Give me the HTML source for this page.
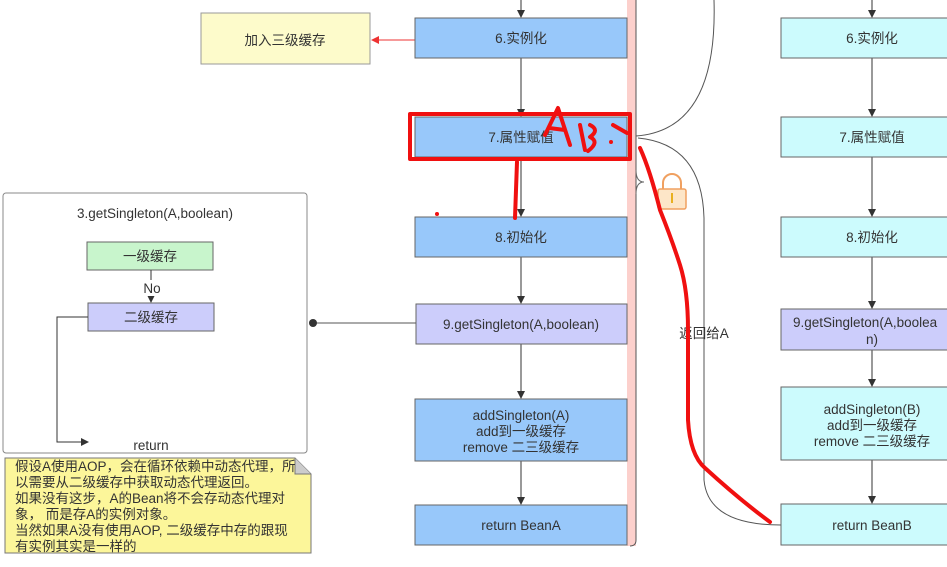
<!DOCTYPE html>
<html><head><meta charset="utf-8"><style>
body{margin:0;width:947px;height:562px;overflow:hidden;background:#fff}
svg text{font-family:"Liberation Sans","Noto Sans CJK SC",sans-serif;font-size:13.5px;fill:#333}
</style></head><body>
<svg width="947" height="562" viewBox="0 0 947 562" xmlns="http://www.w3.org/2000/svg">
<defs><marker id="a" markerWidth="8" markerHeight="8" refX="7" refY="4" orient="auto"><path d="M0,0L8,4L0,8z" fill="#333"/></marker>
<marker id="r" markerWidth="8" markerHeight="8" refX="7" refY="4" orient="auto"><path d="M0,0L8,4L0,8z" fill="#e33"/></marker></defs>
<rect x="627" y="0" width="9" height="546" fill="#fcd0cc"/>
<path d="M636,0V540q0,6 -6,6" fill="none" stroke="#555" stroke-width="1"/>
<path d="M636,170q0,12 8,12q-8,0 -8,12" fill="none" stroke="#666"/>
<path d="M714,0q4,130 -78,136" fill="none" stroke="#555"/>
<path d="M638,138q64,6 66,80V480q4,45 77,45" fill="none" stroke="#555"/>
<rect x="658" y="189" width="28" height="20" rx="2" fill="#fde6c8" stroke="#f0a060" stroke-width="1.5"/>
<path d="M663,189v-6a9,9 0 0 1 18,0v6" fill="none" stroke="#f0a060" stroke-width="2"/>
<line x1="672" y1="193" x2="672" y2="203" stroke="#e8b020" stroke-width="2"/>
<text x="704" y="338" text-anchor="middle">返回给A</text>
<rect x="201" y="13" width="169" height="51" fill="#fdfbcb" stroke="#999"/>
<text x="285" y="45" text-anchor="middle">加入三级缓存</text>
<line x1="415" y1="40" x2="372" y2="40" stroke="#e33" marker-end="url(#r)"/>
<g stroke="#333"><line x1="521" y1="0" x2="521" y2="17" marker-end="url(#a)"/>
<line x1="521" y1="58" x2="521" y2="116" marker-end="url(#a)"/>
<line x1="521" y1="157" x2="521" y2="216" marker-end="url(#a)"/>
<line x1="521" y1="257" x2="521" y2="303" marker-end="url(#a)"/>
<line x1="521" y1="344" x2="521" y2="398" marker-end="url(#a)"/>
<line x1="521" y1="461" x2="521" y2="504" marker-end="url(#a)"/></g>
<g stroke="#666" fill="#98c8fa">
<rect x="415" y="18" width="212" height="40"/>
<rect x="415" y="117" width="212" height="40"/>
<rect x="415" y="217" width="212" height="40"/>
<rect x="416" y="304" width="211" height="40" fill="#cccdfb"/>
<rect x="415" y="399" width="212" height="62"/>
<rect x="415" y="505" width="212" height="40"/></g>
<text x="521" y="43" text-anchor="middle">6.实例化</text>
<text x="521" y="142" text-anchor="middle">7.属性赋值</text>
<text x="521" y="242" text-anchor="middle">8.初始化</text>
<text x="521" y="329" text-anchor="middle">9.getSingleton(A,boolean)</text>
<text x="521" y="420" text-anchor="middle">addSingleton(A)</text>
<text x="521" y="436" text-anchor="middle">add到一级缓存</text>
<text x="521" y="452" text-anchor="middle">remove 二三级缓存</text>
<text x="521" y="530" text-anchor="middle">return BeanA</text>
<g stroke="#333"><line x1="872" y1="0" x2="872" y2="17" marker-end="url(#a)"/>
<line x1="872" y1="58" x2="872" y2="116" marker-end="url(#a)"/>
<line x1="872" y1="157" x2="872" y2="216" marker-end="url(#a)"/>
<line x1="872" y1="257" x2="872" y2="308" marker-end="url(#a)"/>
<line x1="872" y1="350" x2="872" y2="386" marker-end="url(#a)"/>
<line x1="872" y1="460" x2="872" y2="503" marker-end="url(#a)"/></g>
<g stroke="#666" fill="#ccfbfd">
<rect x="781" y="18" width="180" height="40"/>
<rect x="781" y="117" width="180" height="40"/>
<rect x="781" y="217" width="180" height="40"/>
<rect x="781" y="309" width="180" height="41" fill="#cccdfb"/>
<rect x="781" y="387" width="180" height="73"/>
<rect x="781" y="504" width="180" height="41"/></g>
<text x="872" y="43" text-anchor="middle">6.实例化</text>
<text x="872" y="142" text-anchor="middle">7.属性赋值</text>
<text x="872" y="242" text-anchor="middle">8.初始化</text>
<text x="793" y="327">9.getSingleton(A,boolea</text>
<text x="872" y="344" text-anchor="middle">n)</text>
<text x="872" y="414" text-anchor="middle">addSingleton(B)</text>
<text x="872" y="430" text-anchor="middle">add到一级缓存</text>
<text x="872" y="446" text-anchor="middle">remove 二三级缓存</text>
<text x="872" y="530" text-anchor="middle">return BeanB</text>
<rect x="3" y="193" width="304" height="260" rx="3" fill="#fff" stroke="#888"/>
<text x="155" y="218" text-anchor="middle">3.getSingleton(A,boolean)</text>
<rect x="87" y="242" width="126" height="28" fill="#c8f5cc" stroke="#666"/>
<text x="150" y="261" text-anchor="middle">一级缓存</text>
<line x1="151" y1="270" x2="151" y2="302" stroke="#333" marker-end="url(#a)"/>
<rect x="139" y="280" width="26" height="16" fill="#fff"/>
<text x="152" y="293" text-anchor="middle">No</text>
<rect x="88" y="303" width="126" height="28" fill="#cccdfb" stroke="#666"/>
<text x="151" y="322" text-anchor="middle">二级缓存</text>
<path d="M88,317H57V442H88" fill="none" stroke="#333" marker-end="url(#a)"/>
<text x="151" y="450" text-anchor="middle">return</text>
<line x1="313" y1="323" x2="416" y2="323" stroke="#555"/>
<circle cx="313" cy="323" r="4" fill="#333"/>
<path d="M5,458H295L311,474V553H5z" fill="#fcf69a" stroke="#777"/>
<path d="M295,458V474H311" fill="#ccc" stroke="#777"/>
<g style="font-size:13px"><text x="15" y="471">假设A使用AOP，会在循环依赖中动态代理，所</text>
<text x="15" y="487">以需要从二级缓存中获取动态代理返回。</text>
<text x="15" y="503">如果没有这步，A的Bean将不会存动态代理对</text>
<text x="15" y="519">象， 而是存A的实例对象。</text>
<text x="15" y="535">当然如果A没有使用AOP, 二级缓存中存的跟现</text>
<text x="15" y="551">有实例其实是一样的</text></g>
<g fill="none" stroke="#f01010" stroke-width="4" stroke-linecap="round" stroke-linejoin="round">
<rect x="410" y="114" width="220" height="45"/>
<path d="M545,135L558,108L570,145M549,128L565,130"/>
<path d="M580,125L585,150M590,125q10,5 0,12q10,5 -2,14"/>
<path d="M613,125l14,8"/>
<path d="M517,162L515,218"/>
<path d="M640,148Q650,170 660,210Q672,240 680,265Q688,290 688,330V420Q690,455 705,468Q740,500 770,522"/>
</g>
<circle cx="611" cy="142" r="2" fill="#f01010"/>
<circle cx="437" cy="214" r="2" fill="#f01010"/>
</svg>
</body></html>
